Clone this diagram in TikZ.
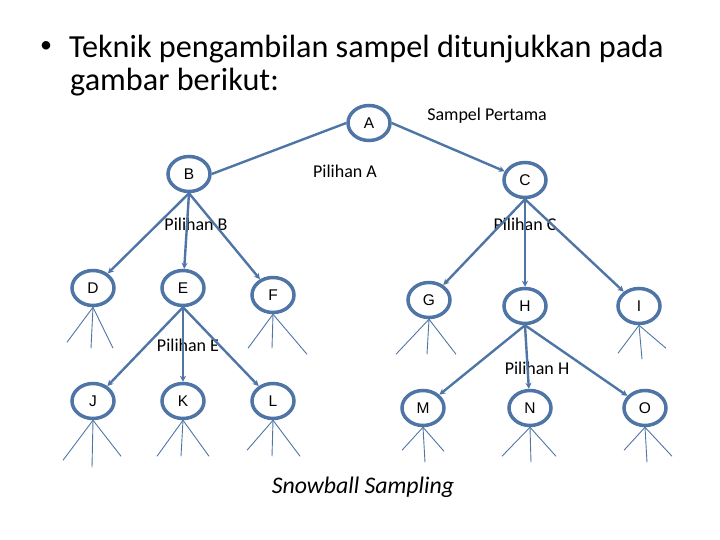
\documentclass[tikz,border=0pt]{standalone}
\usepackage{fontspec}
\setmainfont{Carlito}
\newfontfamily\letterfont{Liberation Sans}
\usetikzlibrary{shapes.geometric,arrows.meta}
\definecolor{nodeblue}{RGB}{79,117,166}
\tikzset{
  circ/.style={ellipse,draw=nodeblue,line width=3.5pt,minimum width=42pt,minimum height=35pt,inner sep=0pt,font=\letterfont\fontsize{15.5}{18}\selectfont},
  conn/.style={draw=nodeblue,line width=2.4pt},
  arr/.style={conn,-{Stealth[length=6pt,width=6pt]}},
  leg/.style={draw=nodeblue,line width=0.9pt},
  lbl/.style={font=\fontsize{18}{21}\selectfont,inner sep=0pt},
  ttl/.style={anchor=base west,inner sep=0pt,font=\fontsize{32.2}{38}\selectfont},
}
\begin{document}
\begin{tikzpicture}[x=1pt,y=-1pt]
\useasboundingbox (0,0) rectangle (720,540);
% title
\node[inner sep=0pt,font=\fontsize{24}{24}\selectfont] (bul) at (46,47) {\textbullet};
\node[ttl] (t1) at (69,58) {Teknik pengambilan sampel ditunjukkan pada};
\node[ttl] (t2) at (70,91) {gambar berikut:};
% nodes
\node[circ] (A) at (369,123) {A};
\node[circ] (B) at (189,174) {B};
\node[circ] (C) at (525,180) {C};
\node[circ] (D) at (93,288) {D};
\node[circ] (E) at (183,288) {E};
\node[circ] (F) at (273,295) {F};
\node[circ] (G) at (429,300) {G};
\node[circ] (H) at (525,306) {H};
\node[circ] (I) at (639,306) {I};
\node[circ] (J) at (93,401) {J};
\node[circ] (K) at (183,401) {K};
\node[circ] (L) at (273,401) {L};
\node[circ] (M) at (423,408) {M};
\node[circ] (N) at (530,408) {N};
\node[circ] (O) at (645,408) {O};
% labels
\node[lbl] (sp) at (487,116) {Sampel Pertama};
\node[lbl] (pa) at (345,171) {Pilihan A};
\node[lbl] (pb) at (196,224) {Pilihan B};
\node[lbl] (pc) at (525,224) {Pilihan C};
\node[lbl] (pe) at (188,345) {Pilihan E};
\node[lbl] (ph) at (537,368) {Pilihan H};
\node[inner sep=0pt,font=\fontsize{23.8}{28}\selectfont\itshape] (sn) at (363,487) {Snowball Sampling};
% connectors
\draw[conn] (B.east) -- (A.west);
\draw[arr] (A.east) -- (C);
\draw[arr] (B.south) -- (D);
\draw[arr] (B.south) -- (E);
\draw[arr] (B.south) -- (F);
\draw[arr] (C.south) -- (G);
\draw[arr] (C.south) -- (H);
\draw[arr] (C.south) -- (I);
\draw[arr] (E.south) -- (J);
\draw[arr] (E.south) -- (K);
\draw[arr] (E.south) -- (L);
\draw[arr] (H.south) -- (M);
\draw[arr] (H.south) -- (N);
\draw[arr] (H.south) -- (O);
% legs
\foreach \n/\ax/\ay/\bx/\by/\cx/\cy in {
  D/-26/35/-2/41/20/41,
  F/-25/34/-1/34/34/40,
  G/-33/35/-2/35/27/35,
  I/-21/28/3/34/27/23,
  J/-30/40/-1/47/28/36,
  K/-26/36/-2/36/26/36,
  L/-26/30/-1/36/27/36,
  M/-21/23/2/35/21/24,
  N/-28/29/1/35/26/29,
  O/-21/23/2/35/27/29}{
  \draw[leg] (\n.south) -- ++(\ax,\ay);
  \draw[leg] (\n.south) -- ++(\bx,\by);
  \draw[leg] (\n.south) -- ++(\cx,\cy);
}
\end{tikzpicture}
\end{document}
